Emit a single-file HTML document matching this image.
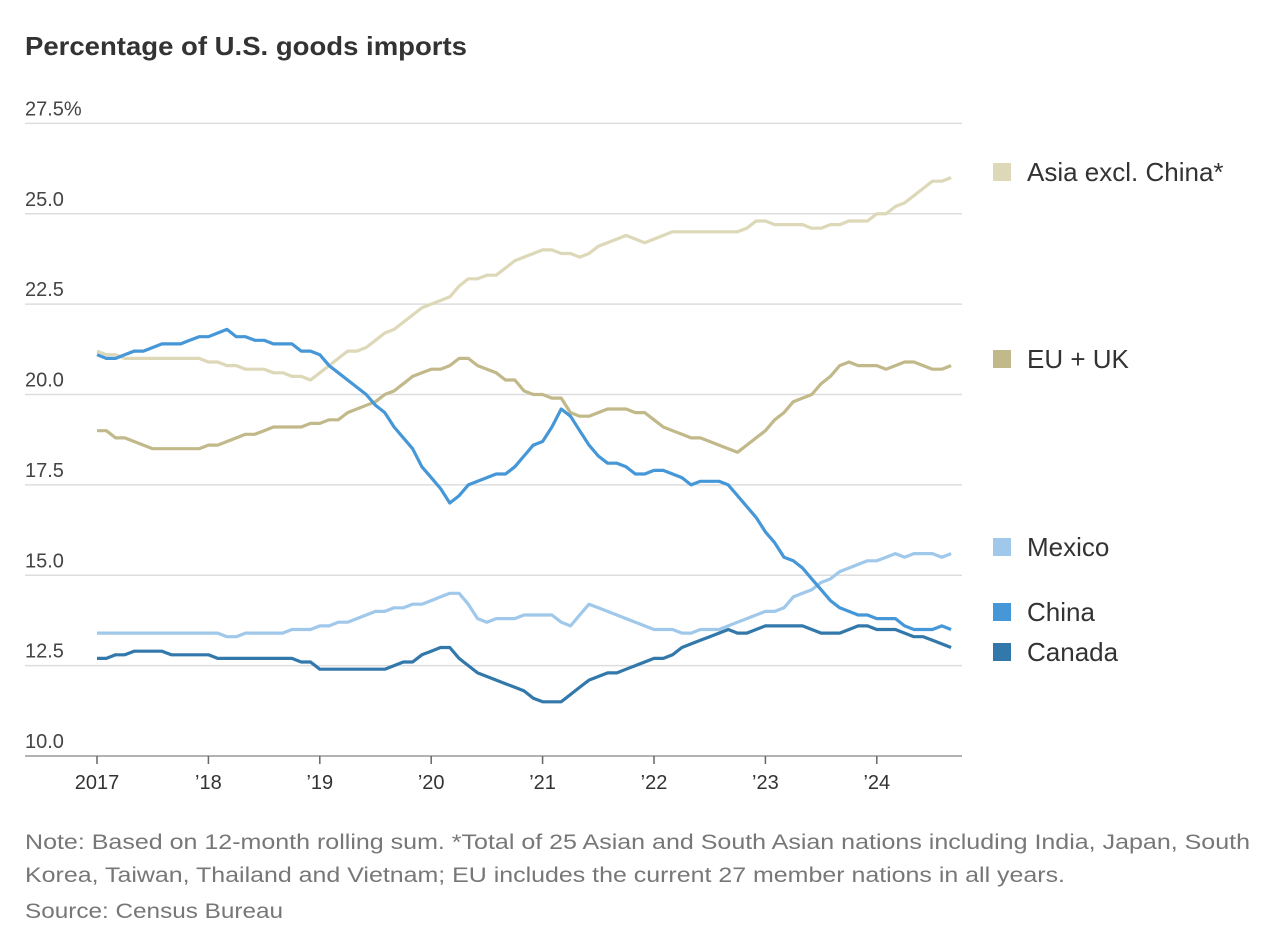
<!DOCTYPE html>
<html><head><meta charset="utf-8">
<style>
html,body{margin:0;padding:0;background:#fff;}
body{width:1268px;height:940px;overflow:hidden;font-family:"Liberation Sans",sans-serif;}
</style></head>
<body>
<svg width="1268" height="940" xmlns="http://www.w3.org/2000/svg">
<text x="25" y="55" font-size="26" font-weight="bold" fill="#333" textLength="442" lengthAdjust="spacingAndGlyphs">Percentage of U.S. goods imports</text>
<g id="grid"></g><g id="lines"></g><g id="legend"></g>
<g fill="#777" font-size="21">
<text x="25" y="849" textLength="1225" lengthAdjust="spacingAndGlyphs">Note: Based on 12-month rolling sum. *Total of 25 Asian and South Asian nations including India, Japan, South</text>
<text x="25" y="882" textLength="1040" lengthAdjust="spacingAndGlyphs">Korea, Taiwan, Thailand and Vietnam; EU includes the current 27 member nations in all years.</text>
<text x="25" y="918" textLength="258" lengthAdjust="spacingAndGlyphs">Source: Census Bureau</text>
</g>
</svg>
<script>
const yTicks=[10,12.5,15,17.5,20,22.5,25,27.5];
const yTickLabels=["10.0","12.5","15.0","17.5","20.0","22.5","25.0","27.5%"];
const xTickLabels=["2017","’18","’19","’20","’21","’22","’23","’24"];
const seriesNames=["Asia excl. China*","EU + UK","Mexico","China","Canada"];
const asia=[21.2,21.1,21.1,21.0,21.0,21.0,21.0,21.0,21.0,21.0,21.0,21.0,
20.9,20.9,20.8,20.8,20.7,20.7,20.7,20.6,20.6,20.5,20.5,20.4,
20.6,20.8,21.0,21.2,21.2,21.3,21.5,21.7,21.8,22.0,22.2,22.4,
22.5,22.6,22.7,23.0,23.2,23.2,23.3,23.3,23.5,23.7,23.8,23.9,
24.0,24.0,23.9,23.9,23.8,23.9,24.1,24.2,24.3,24.4,24.3,24.2,
24.3,24.4,24.5,24.5,24.5,24.5,24.5,24.5,24.5,24.5,24.6,24.8,
24.8,24.7,24.7,24.7,24.7,24.6,24.6,24.7,24.7,24.8,24.8,24.8,
25.0,25.0,25.2,25.3,25.5,25.7,25.9,25.9,26.0];
const eu=[19.0,19.0,18.8,18.8,18.7,18.6,18.5,18.5,18.5,18.5,18.5,18.5,
18.6,18.6,18.7,18.8,18.9,18.9,19.0,19.1,19.1,19.1,19.1,19.2,
19.2,19.3,19.3,19.5,19.6,19.7,19.8,20.0,20.1,20.3,20.5,20.6,
20.7,20.7,20.8,21.0,21.0,20.8,20.7,20.6,20.4,20.4,20.1,20.0,
20.0,19.9,19.9,19.5,19.4,19.4,19.5,19.6,19.6,19.6,19.5,19.5,
19.3,19.1,19.0,18.9,18.8,18.8,18.7,18.6,18.5,18.4,18.6,18.8,
19.0,19.3,19.5,19.8,19.9,20.0,20.3,20.5,20.8,20.9,20.8,20.8,
20.8,20.7,20.8,20.9,20.9,20.8,20.7,20.7,20.8];
const mexico=[13.4,13.4,13.4,13.4,13.4,13.4,13.4,13.4,13.4,13.4,13.4,13.4,
13.4,13.4,13.3,13.3,13.4,13.4,13.4,13.4,13.4,13.5,13.5,13.5,
13.6,13.6,13.7,13.7,13.8,13.9,14.0,14.0,14.1,14.1,14.2,14.2,
14.3,14.4,14.5,14.5,14.2,13.8,13.7,13.8,13.8,13.8,13.9,13.9,
13.9,13.9,13.7,13.6,13.9,14.2,14.1,14.0,13.9,13.8,13.7,13.6,
13.5,13.5,13.5,13.4,13.4,13.5,13.5,13.5,13.6,13.7,13.8,13.9,
14.0,14.0,14.1,14.4,14.5,14.6,14.8,14.9,15.1,15.2,15.3,15.4,
15.4,15.5,15.6,15.5,15.6,15.6,15.6,15.5,15.6];
const china=[21.1,21.0,21.0,21.1,21.2,21.2,21.3,21.4,21.4,21.4,21.5,21.6,
21.6,21.7,21.8,21.6,21.6,21.5,21.5,21.4,21.4,21.4,21.2,21.2,
21.1,20.8,20.6,20.4,20.2,20.0,19.7,19.5,19.1,18.8,18.5,18.0,
17.7,17.4,17.0,17.2,17.5,17.6,17.7,17.8,17.8,18.0,18.3,18.6,
18.7,19.1,19.6,19.4,19.0,18.6,18.3,18.1,18.1,18.0,17.8,17.8,
17.9,17.9,17.8,17.7,17.5,17.6,17.6,17.6,17.5,17.2,16.9,16.6,
16.2,15.9,15.5,15.4,15.2,14.9,14.6,14.3,14.1,14.0,13.9,13.9,
13.8,13.8,13.8,13.6,13.5,13.5,13.5,13.6,13.5];
const canada=[12.7,12.7,12.8,12.8,12.9,12.9,12.9,12.9,12.8,12.8,12.8,12.8,
12.8,12.7,12.7,12.7,12.7,12.7,12.7,12.7,12.7,12.7,12.6,12.6,
12.4,12.4,12.4,12.4,12.4,12.4,12.4,12.4,12.5,12.6,12.6,12.8,
12.9,13.0,13.0,12.7,12.5,12.3,12.2,12.1,12.0,11.9,11.8,11.6,
11.5,11.5,11.5,11.7,11.9,12.1,12.2,12.3,12.3,12.4,12.5,12.6,
12.7,12.7,12.8,13.0,13.1,13.2,13.3,13.4,13.5,13.4,13.4,13.5,
13.6,13.6,13.6,13.6,13.6,13.5,13.4,13.4,13.4,13.5,13.6,13.6,
13.5,13.5,13.5,13.4,13.3,13.3,13.2,13.1,13.0];
const NS="http://www.w3.org/2000/svg";
const y=v=>756-(v-10)*36.15;
const x=m=>97+m*(111.4/12);
function mk(t,a,p){const e=document.createElementNS(NS,t);for(const k in a)e.setAttribute(k,a[k]);p.appendChild(e);return e;}
const grid=document.getElementById('grid');
yTicks.forEach((v,i)=>{
  const l=mk('line',{x1:25,x2:962,y1:y(v),y2:y(v),stroke:i==0?'#999':'#ddd','stroke-width':1.5},grid);
  
  
  const t=mk('text',{x:25,y:y(v)-8,'font-size':20,fill:'#444'},grid);
  t.textContent=yTickLabels[i];
  
  
});
xTickLabels.forEach((s,i)=>{
  const xx=x(i*12);
  const tk=mk('line',{x1:xx,x2:xx,y1:756,y2:764,stroke:'#666','stroke-width':1.5},grid);
  
  
  const t=mk('text',{x:xx,y:789,'font-size':20,fill:'#333','text-anchor':'middle'},grid);
  t.textContent=s;
  
  
});
const series=[asia,eu,mexico,china,canada];
const colors=['#ddd8b8','#c2b98a','#a0c8ea','#4597d7','#3378ab'];
const names=['line-asia','line-eu-uk','line-mexico','line-china','line-canada'];
const legY=[172,359,547,612,652];
const lines=document.getElementById('lines'),leg=document.getElementById('legend');
series.forEach((s,k)=>{
  const d=s.map((v,i)=>(i?'L':'M')+x(i).toFixed(1)+','+y(v).toFixed(1)).join('');
  const p=mk('path',{d:d,fill:'none',stroke:colors[k],'stroke-width':3.2,'stroke-linejoin':'round'},lines);
  
  
  const r=mk('rect',{x:993,y:legY[k]-9,width:18,height:18,fill:colors[k]},leg);
  
  
  const t=mk('text',{x:1027,y:legY[k]+9,'font-size':26,fill:'#333'},leg);
  t.textContent=seriesNames[k];
  
  
});
</script>
</body></html>
